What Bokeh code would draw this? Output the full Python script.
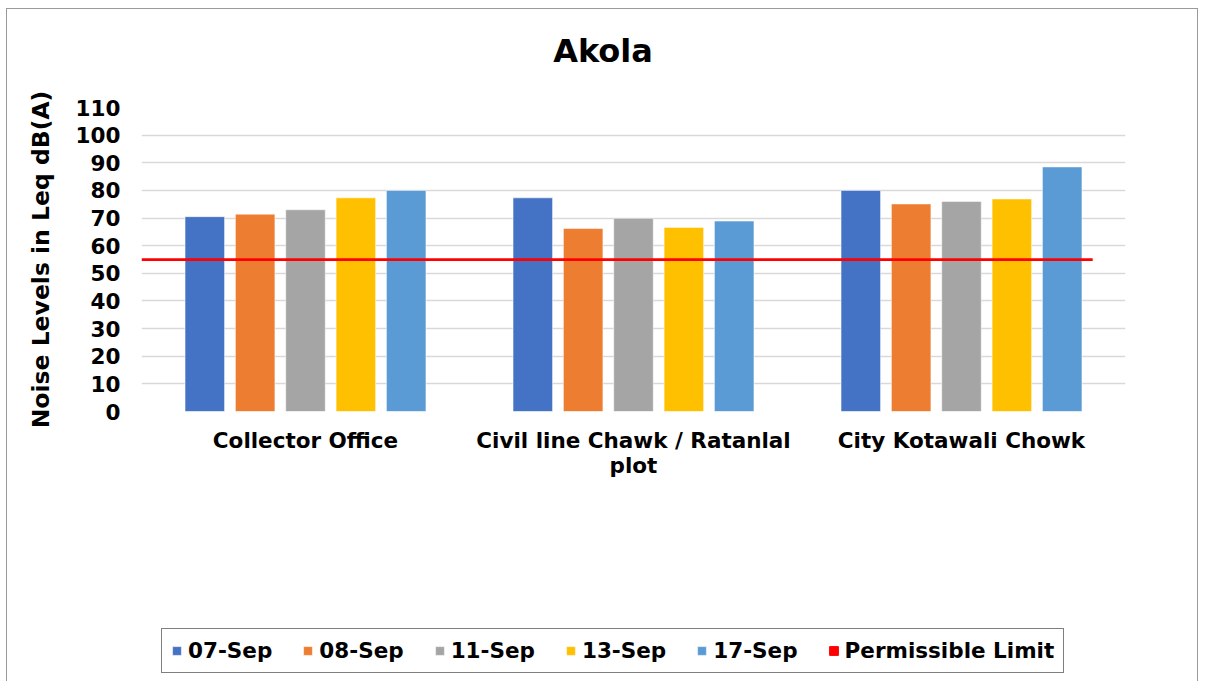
from bokeh.plotting import figure
from bokeh.layouts import column
from bokeh.models import (Range1d, FixedTicker, Legend, LegendItem, ColumnDataSource,
                          FactorRange, CategoricalAxis)
from bokeh.core.properties import value
from bokeh.transform import dodge
from bokeh.embed import file_html
from bokeh.resources import INLINE

# ---- data ----
locations = ["Collector Office", "Civil line Chawk / Ratanlal", "City Kotawali Chowk"]
location_line2 = ["", "plot", ""]
dates = ["07-Sep", "08-Sep", "11-Sep", "13-Sep", "17-Sep"]
sep07 = [70.5, 77.3, 80.0]
sep08 = [71.4, 66.2, 75.1]
sep11 = [73.0, 69.9, 76.0]
sep13 = [77.3, 66.6, 76.9]
sep17 = [80.0, 68.9, 88.5]
permissible_limit = [55, 55]
limit_label = "Permissible Limit"
y_ticks = [0, 10, 20, 30, 40, 50, 60, 70, 80, 90, 100, 110]
title_text = "Akola"
y_title = "Noise Levels in Leq dB(A)"

colors = ["#4472C4", "#ED7D31", "#A5A5A5", "#FFC000", "#5B9BD5"]
LIMIT_COLOR = "#FF0000"
FONT = "DejaVu Sans"
LBL = "21.5px"
W = 1190
FRAME_W = 984  # width of the aligned plot frames

# ---------------- title strip ----------------
TH = 70
pt = figure(width=W, height=TH, x_range=Range1d(0, FRAME_W), y_range=Range1d(0, TH),
            x_axis_type=None, y_axis_type=None, output_backend="svg",
            toolbar_location=None, tools="", min_border=0, title_location=None)
pt.outline_line_color = None
pt.grid.visible = False
pt.text(x=[461.5], y=[29], text=[title_text], text_font=value(FONT),
        text_font_style="bold", text_font_size="32px", text_align="center",
        text_baseline="alphabetic", text_color="black")

# ---------------- main chart ----------------
src = ColumnDataSource(dict(loc=locations, sep07=sep07, sep08=sep08,
                            sep11=sep11, sep13=sep13, sep17=sep17))
series_cols = ["sep07", "sep08", "sep11", "sep13", "sep17"]

p = figure(x_range=locations, y_range=Range1d(0, 110), width=W, height=422,
           output_backend="svg", toolbar_location=None, tools="", title_location=None,
           min_border_left=134, min_border_right=72, min_border_top=28,
           min_border_bottom=90)
p.outline_line_color = None

step = 0.1535
bw = 0.1205
renderers = []
for i, (col, c) in enumerate(zip(series_cols, colors)):
    r = p.vbar(x=dodge("loc", (i - 2) * step, range=p.x_range), top=col, bottom=0,
               width=bw, source=src, fill_color=c, line_color="white",
               line_alpha=0.5, line_width=1)
    renderers.append(r)

n = len(locations)
p.line(x=[0, n - 0.1], y=permissible_limit, line_color=LIMIT_COLOR, line_width=2.75)

p.yaxis.ticker = FixedTicker(ticks=y_ticks)
p.yaxis.axis_line_color = None
p.yaxis.major_tick_line_color = None
p.yaxis.minor_tick_line_color = None
p.yaxis.major_tick_out = 0
p.yaxis.major_tick_in = 0
p.yaxis.major_label_standoff = 21
p.yaxis.major_label_text_font = FONT
p.yaxis.major_label_text_font_style = "bold"
p.yaxis.major_label_text_font_size = LBL
p.yaxis.major_label_text_color = "black"
p.yaxis.axis_label = y_title
p.yaxis.axis_label_text_font = FONT
p.yaxis.axis_label_text_font_style = "bold"
p.yaxis.axis_label_text_font_size = "23.5px"
p.yaxis.axis_label_text_color = "black"
p.yaxis.axis_label_standoff = 18


def style_xaxis(ax, standoff):
    ax.axis_line_color = None
    ax.major_tick_line_color = None
    ax.major_tick_out = 0
    ax.major_tick_in = 0
    ax.major_label_standoff = standoff
    ax.major_label_text_font = FONT
    ax.major_label_text_font_style = "bold"
    ax.major_label_text_font_size = LBL
    ax.major_label_text_color = "black"


style_xaxis(p.xaxis[0], 16)

# second line of the category labels (blank factors kept unique with zero-width spaces)
line2_factors = [t if t else "\u200b" * (k + 1) for k, t in enumerate(location_line2)]
p.extra_x_ranges = {"line2": FactorRange(factors=line2_factors)}
ax2 = CategoricalAxis(x_range_name="line2")
style_xaxis(ax2, -3)
p.add_layout(ax2, "below")

p.xgrid.grid_line_color = None
p.ygrid.grid_line_color = "#D9D9D9"
p.ygrid.grid_line_width = 1.5

# ---------------- legend strip ----------------
pl = figure(width=W, height=180, x_range=Range1d(0, 1), y_range=Range1d(0, 1),
            x_axis_type=None, y_axis_type=None, output_backend="svg",
            toolbar_location=None, tools="", min_border=0, title_location=None)
pl.outline_line_color = None
pl.grid.visible = False
# legend-only swatches: one point each, kept outside the visible range
leg_renderers = [pl.vbar(x=[-5], top=[-5], width=0.1, fill_color=c, line_color="white",
                         line_alpha=0.5) for c in colors]
leg_renderers.append(pl.vbar(x=[-5], top=[-5], width=0.1, fill_color=LIMIT_COLOR,
                             line_color=LIMIT_COLOR))
items = [LegendItem(label=lab, renderers=[r])
         for lab, r in zip(dates + [limit_label], leg_renderers)]
legend = Legend(items=items, orientation="horizontal", location=(20, 8),
                glyph_width=11, glyph_height=11, label_standoff=6, spacing=30,
                padding=9, margin=0, border_line_color="black", border_line_width=1,
                label_text_font=FONT, label_text_font_style="bold",
                label_text_font_size=LBL, label_text_color="black",
                background_fill_alpha=1.0)
pl.add_layout(legend)

layout = column(pt, p, pl, spacing=0, margin=(8, 0, 0, 6))
layout.styles = {"border-left": "1px solid #9a9a9a", "border-top": "1px solid #9a9a9a",
                 "border-right": "1px solid #9a9a9a"}

open("out.html", "w").write(file_html(layout, INLINE))
